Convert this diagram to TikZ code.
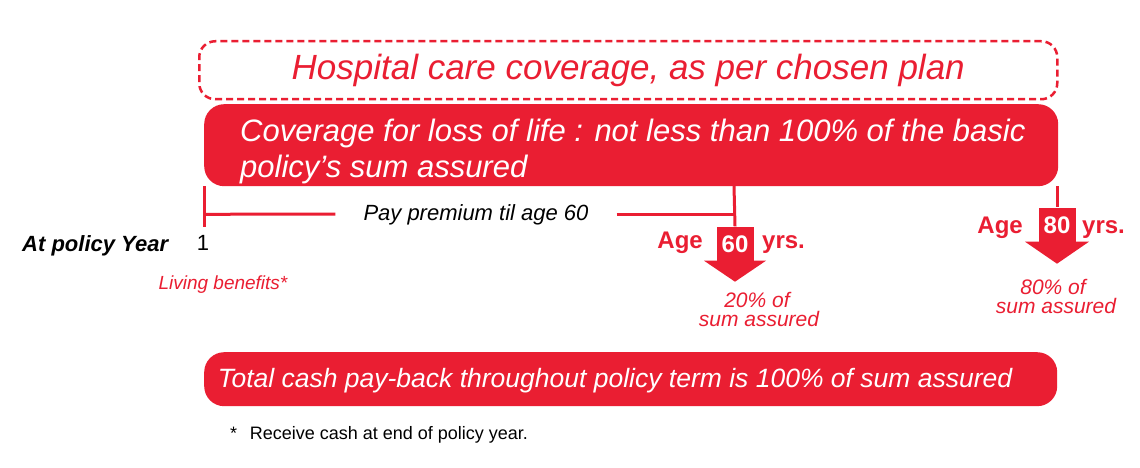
\documentclass[tikz,border=0pt]{standalone}
\usepackage{fontspec}
\setmainfont{Liberation Sans}
\usetikzlibrary{calc}
\definecolor{brandred}{RGB}{234,30,50}
\begin{document}
\begin{tikzpicture}[x=1pt,y=-1pt,
  redline/.style={draw=brandred,line width=3pt},
  redbox/.style={fill=brandred,draw=none,inner sep=0pt,anchor=north west},
  shaftbox/.style={fill=brandred,draw=none,inner sep=0pt,minimum width=37pt,minimum height=35pt,text=white,font=\bfseries\fontsize{24}{26}\selectfont},
  agelabel/.style={text=brandred,font=\bfseries\fontsize{24}{26}\selectfont,inner sep=0pt},
  payout/.style={text=brandred,font=\itshape\fontsize{21}{19}\selectfont,inner sep=0pt,anchor=base},
  boxtext/.style={text=white,font=\itshape\fontsize{31}{35}\selectfont,inner sep=0pt}]
\useasboundingbox (0,0) rectangle (1140,468);
\fill[white] (0,0) rectangle (1140,468);

% dashed hospital box
\node[draw=brandred,line width=2.5pt,dash pattern=on 7pt off 4pt,rounded corners=16pt,
      minimum width=858pt,minimum height=58pt,anchor=north west,inner sep=0pt,
      text=brandred,font=\itshape\fontsize{35}{40}\selectfont] (hosp) at (198,40)
      {Hospital care coverage, as per chosen plan};

% timeline points
\coordinate (t1) at (204,227);
\coordinate (m60) at (734,186);
\coordinate (e80) at (1057,186);

% arrows
\node[shaftbox] (a60) at (735,244) {60};
\fill[brandred] ([xshift=-31pt,yshift=1pt]a60.south) -- ([xshift=31pt,yshift=1pt]a60.south) -- ([yshift=-20pt]a60.south) -- cycle;
\node[shaftbox] (a80) at (1057,225) {80};
\fill[brandred] ([xshift=-32pt,yshift=1pt]a80.south) -- ([xshift=32pt,yshift=1pt]a80.south) -- ([yshift=-21pt]a80.south) -- cycle;

% main coverage box
\node[redbox,rounded corners=20pt,minimum width=854pt,minimum height=82pt] (life) at (204,104) {};
\node[boxtext,anchor=base west] (life1) at (240,142) {Coverage for loss of life : not less than 100\% of the basic};
\node[boxtext,anchor=base west] (life2) at (240,177) {policy’s sum assured};

\draw[redline] (life.south west) -- (t1);
\draw[redline] (m60) -- (a60.north);
\draw[redline] (e80) -- (a80.north);

% pay premium line
\node[font=\itshape\fontsize{22}{24}\selectfont,inner sep=0pt,inner xsep=28pt,anchor=base] (pay) at (476,220) {Pay premium til age 60};
\draw[redline] (t1 |- pay) -- (pay.west |- 0,214);
\draw[redline] (pay.east |- 0,214) -- (734,214);

% labels
\node[font=\bfseries\itshape\fontsize{22}{24}\selectfont,anchor=base west,inner sep=0pt] (ayear) at (22,251) {At policy Year};
\node[font=\fontsize{22}{24}\selectfont,anchor=base,inner sep=0pt] (one) at (203,250) {1};
\node[text=brandred,font=\itshape\fontsize{19}{22}\selectfont,inner sep=0pt] (living) at (223,285) {Living benefits*};

\node[agelabel,anchor=base east] (age60) at (703,248) {Age};
\node[agelabel,anchor=base west] (yrs60) at (762,248) {yrs.};
\node[agelabel,anchor=base east] (age80) at (1023,233) {Age};
\node[agelabel,anchor=base west] (yrs80) at (1082,233) {yrs.};

\node[payout] (p20a) at (757,307) {20\% of};
\node[payout] (p20b) at (759,326) {sum assured};
\node[payout] (p80a) at (1053,294) {80\% of};
\node[payout] (p80b) at (1056,313) {sum assured};

% bottom box
\node[redbox,rounded corners=20pt,minimum width=853pt,minimum height=54pt] (total) at (204,352) {};
\node[text=white,font=\itshape\fontsize{26.5}{30}\selectfont,inner sep=0pt] (totaltext) at (615,381) {Total cash pay-back throughout policy term is 100\% of sum assured};

% footnote
\node[font=\fontsize{18}{20}\selectfont,anchor=base west,inner sep=0pt] (foot) at (230,439) {*\hspace{0.7em}Receive cash at end of policy year.};
\end{tikzpicture}
\end{document}
